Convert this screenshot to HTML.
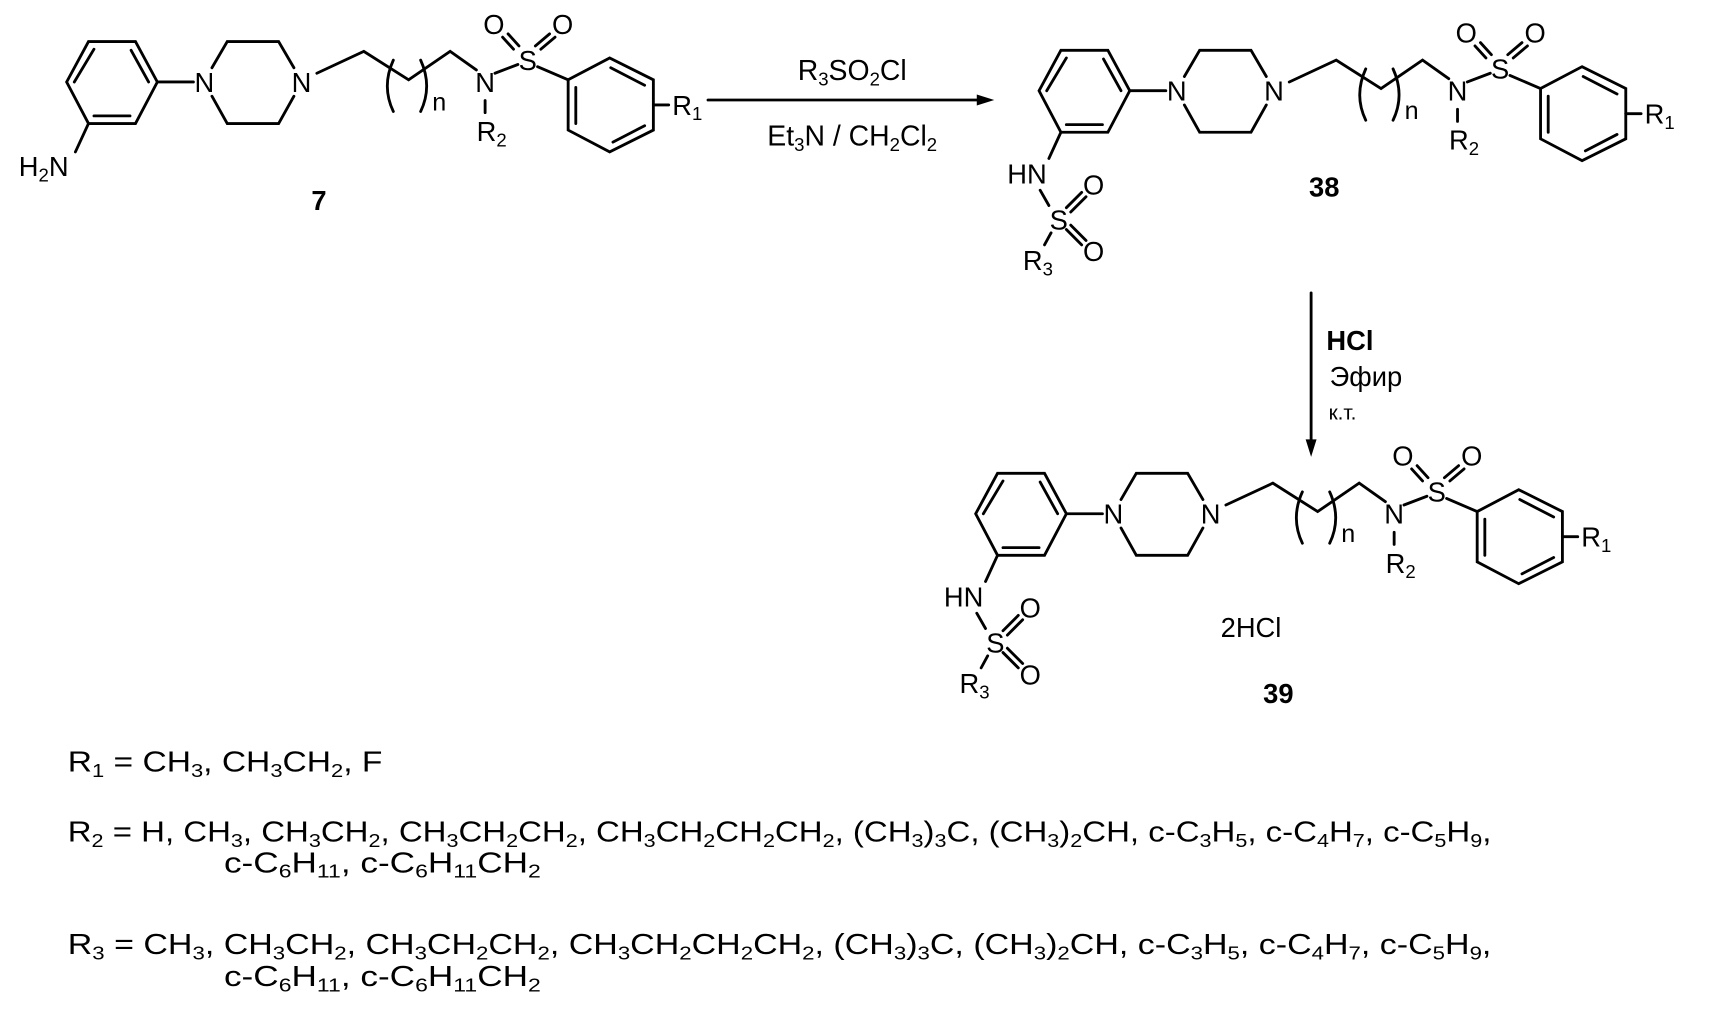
<!DOCTYPE html>
<html><head><meta charset="utf-8"><style>
html,body{margin:0;padding:0;background:#fff;}
svg{display:block}
text{font-family:"Liberation Sans",Arial,sans-serif;fill:#000;}
.a{font-size:25px}
.s{font-size:17px}
</style></head><body>
<svg width="1711" height="1010" viewBox="0 0 1566 924" preserveAspectRatio="none" xmlns="http://www.w3.org/2000/svg">
<g stroke="#000" stroke-width="2.6" fill="none" stroke-linecap="round">
<g>
<polygon points="81,38 124,38 144,75 124,113 81,113 61,75"/>
<line x1="68" y1="75" x2="86" y2="45"/><line x1="120" y1="46" x2="136" y2="75"/><line x1="86" y1="106" x2="119" y2="106"/>
<line x1="144" y1="75" x2="177" y2="75"/>
<polyline points="194,62 208,38 255,38 269,62"/><polyline points="269,88 255,113 208,113 194,88"/>
<polyline points="290,67 333,47 374,73 412,47 436,64"/>
<path d="M360,55 Q349,79 360,102"/><path d="M385,55 Q396,79 385,102"/>
<line x1="444" y1="92" x2="444" y2="103"/>
<line x1="453" y1="67" x2="474" y2="59"/>
<line x1="470" y1="45" x2="460" y2="34"/><line x1="475" y1="42" x2="465" y2="31"/>
<line x1="490" y1="42" x2="503" y2="31"/><line x1="495" y1="45" x2="508" y2="34"/>
<line x1="492" y1="61" x2="520" y2="73"/>
<polygon points="520,73 558,53 598,73 598,119 558,139 520,119"/>
<line x1="527" y1="80" x2="527" y2="113"/><line x1="559" y1="62" x2="590" y2="78"/><line x1="561" y1="130" x2="590" y2="115"/>
<line x1="598" y1="96" x2="612" y2="96"/>
</g>
<line x1="81" y1="113" x2="69" y2="139"/>
<g transform="translate(890,8)">
<polygon points="81,38 124,38 144,75 124,113 81,113 61,75"/>
<line x1="68" y1="75" x2="86" y2="45"/><line x1="120" y1="46" x2="136" y2="75"/><line x1="86" y1="106" x2="119" y2="106"/>
<line x1="144" y1="75" x2="177" y2="75"/>
<polyline points="194,62 208,38 255,38 269,62"/><polyline points="269,88 255,113 208,113 194,88"/>
<polyline points="290,67 333,47 374,73 412,47 436,64"/>
<path d="M360,55 Q349,79 360,102"/><path d="M385,55 Q396,79 385,102"/>
<line x1="444" y1="92" x2="444" y2="103"/>
<line x1="453" y1="67" x2="474" y2="59"/>
<line x1="470" y1="45" x2="460" y2="34"/><line x1="475" y1="42" x2="465" y2="31"/>
<line x1="490" y1="42" x2="503" y2="31"/><line x1="495" y1="45" x2="508" y2="34"/>
<line x1="492" y1="61" x2="520" y2="73"/>
<polygon points="520,73 558,53 598,73 598,119 558,139 520,119"/>
<line x1="527" y1="80" x2="527" y2="113"/><line x1="559" y1="62" x2="590" y2="78"/><line x1="561" y1="130" x2="590" y2="115"/>
<line x1="598" y1="96" x2="612" y2="96"/>
<line x1="81" y1="113" x2="70" y2="137"/>
<line x1="62" y1="166" x2="70" y2="180"/>
<line x1="86" y1="182" x2="100" y2="168"/><line x1="90" y1="186" x2="104" y2="172"/>
<line x1="86" y1="202" x2="100" y2="216"/><line x1="90" y1="198" x2="104" y2="212"/>
<line x1="72" y1="205" x2="66" y2="216"/>
</g>
<g transform="translate(832,395)">
<polygon points="81,38 124,38 144,75 124,113 81,113 61,75"/>
<line x1="68" y1="75" x2="86" y2="45"/><line x1="120" y1="46" x2="136" y2="75"/><line x1="86" y1="106" x2="119" y2="106"/>
<line x1="144" y1="75" x2="177" y2="75"/>
<polyline points="194,62 208,38 255,38 269,62"/><polyline points="269,88 255,113 208,113 194,88"/>
<polyline points="290,67 333,47 374,73 412,47 436,64"/>
<path d="M360,55 Q349,79 360,102"/><path d="M385,55 Q396,79 385,102"/>
<line x1="444" y1="92" x2="444" y2="103"/>
<line x1="453" y1="67" x2="474" y2="59"/>
<line x1="470" y1="45" x2="460" y2="34"/><line x1="475" y1="42" x2="465" y2="31"/>
<line x1="490" y1="42" x2="503" y2="31"/><line x1="495" y1="45" x2="508" y2="34"/>
<line x1="492" y1="61" x2="520" y2="73"/>
<polygon points="520,73 558,53 598,73 598,119 558,139 520,119"/>
<line x1="527" y1="80" x2="527" y2="113"/><line x1="559" y1="62" x2="590" y2="78"/><line x1="561" y1="130" x2="590" y2="115"/>
<line x1="598" y1="96" x2="612" y2="96"/>
<line x1="81" y1="113" x2="70" y2="137"/>
<line x1="62" y1="166" x2="70" y2="180"/>
<line x1="86" y1="182" x2="100" y2="168"/><line x1="90" y1="186" x2="104" y2="172"/>
<line x1="86" y1="202" x2="100" y2="216"/><line x1="90" y1="198" x2="104" y2="212"/>
<line x1="72" y1="205" x2="66" y2="216"/>
</g>
<line x1="648" y1="91.5" x2="898" y2="91.5"/>
<line x1="1200" y1="268" x2="1200" y2="405"/>
</g>
<polygon points="910,91.5 894,86.5 894,96.5" fill="#000"/>
<polygon points="1200,418 1195,402 1205,402" fill="#000"/>

<g class="a" text-anchor="middle">
<text x="187" y="84">N</text><text x="276" y="84">N</text><text x="444" y="84">N</text><text x="483" y="64">S</text>
<text x="452" y="31">O</text><text x="515" y="31">O</text>
<text x="402" y="101" style="font-size:23px">n</text>
<text x="450" y="129">R<tspan class="s" dy="5">2</tspan></text>
<text x="629" y="105">R<tspan class="s" dy="5">1</tspan></text>
<text x="40" y="161">H<tspan class="s" dy="5">2</tspan><tspan dy="-5">N</tspan></text>
</g>
<text x="292" y="192" text-anchor="middle" style="font-size:25px;font-weight:bold">7</text>

<g class="a" text-anchor="middle" transform="translate(890,8)">
<text x="187" y="84">N</text><text x="276" y="84">N</text><text x="444" y="84">N</text><text x="483" y="64">S</text>
<text x="452" y="31">O</text><text x="515" y="31">O</text>
<text x="402" y="101" style="font-size:23px">n</text>
<text x="450" y="129">R<tspan class="s" dy="5">2</tspan></text>
<text x="629" y="105">R<tspan class="s" dy="5">1</tspan></text>
<text x="50" y="160">HN</text>
<text x="79" y="202">S</text>
<text x="111" y="170">O</text><text x="111" y="231">O</text>
<text x="60" y="239">R<tspan class="s" dy="5">3</tspan></text>
</g>
<text x="1212" y="180" text-anchor="middle" style="font-size:25px;font-weight:bold">38</text>

<g class="a" text-anchor="middle" transform="translate(832,395)">
<text x="187" y="84">N</text><text x="276" y="84">N</text><text x="444" y="84">N</text><text x="483" y="64">S</text>
<text x="452" y="31">O</text><text x="515" y="31">O</text>
<text x="402" y="101" style="font-size:23px">n</text>
<text x="450" y="129">R<tspan class="s" dy="5">2</tspan></text>
<text x="629" y="105">R<tspan class="s" dy="5">1</tspan></text>
<text x="50" y="160">HN</text>
<text x="79" y="202">S</text>
<text x="111" y="170">O</text><text x="111" y="231">O</text>
<text x="60" y="239">R<tspan class="s" dy="5">3</tspan></text>
</g>
<text x="1145" y="583" text-anchor="middle" class="a">2HCl</text>
<text x="1170" y="643" text-anchor="middle" style="font-size:25px;font-weight:bold">39</text>

<text x="780" y="73" text-anchor="middle" style="font-size:26px">R<tspan class="s" dy="5">3</tspan><tspan dy="-5">SO</tspan><tspan class="s" dy="5">2</tspan><tspan dy="-5">Cl</tspan></text>
<text x="780" y="133" text-anchor="middle" style="font-size:26px">Et<tspan class="s" dy="5">3</tspan><tspan dy="-5">N / CH</tspan><tspan class="s" dy="5">2</tspan><tspan dy="-5">Cl</tspan><tspan class="s" dy="5">2</tspan></text>
<text x="1214" y="320" style="font-size:25px;font-weight:bold">HCl</text>
<text x="1217" y="353" style="font-size:25px">Эфир</text>
<text x="1216" y="384" style="font-size:19px">к.т.</text>

<g style="font-size:26px">
<text x="62" y="706" textLength="288" lengthAdjust="spacingAndGlyphs">R<tspan class="s" dy="5">1</tspan><tspan dy="-5"> = CH</tspan><tspan class="s" dy="5">3</tspan><tspan dy="-5">, CH</tspan><tspan class="s" dy="5">3</tspan><tspan dy="-5">CH</tspan><tspan class="s" dy="5">2</tspan><tspan dy="-5">, F</tspan></text>
<text x="62" y="770" textLength="1303" lengthAdjust="spacingAndGlyphs">R<tspan class="s" dy="5">2</tspan><tspan dy="-5"> = H, CH</tspan><tspan class="s" dy="5">3</tspan><tspan dy="-5">, CH</tspan><tspan class="s" dy="5">3</tspan><tspan dy="-5">CH</tspan><tspan class="s" dy="5">2</tspan><tspan dy="-5">, CH</tspan><tspan class="s" dy="5">3</tspan><tspan dy="-5">CH</tspan><tspan class="s" dy="5">2</tspan><tspan dy="-5">CH</tspan><tspan class="s" dy="5">2</tspan><tspan dy="-5">, CH</tspan><tspan class="s" dy="5">3</tspan><tspan dy="-5">CH</tspan><tspan class="s" dy="5">2</tspan><tspan dy="-5">CH</tspan><tspan class="s" dy="5">2</tspan><tspan dy="-5">CH</tspan><tspan class="s" dy="5">2</tspan><tspan dy="-5">, (CH</tspan><tspan class="s" dy="5">3</tspan><tspan dy="-5">)</tspan><tspan class="s" dy="5">3</tspan><tspan dy="-5">C, (CH</tspan><tspan class="s" dy="5">3</tspan><tspan dy="-5">)</tspan><tspan class="s" dy="5">2</tspan><tspan dy="-5">CH, c-C</tspan><tspan class="s" dy="5">3</tspan><tspan dy="-5">H</tspan><tspan class="s" dy="5">5</tspan><tspan dy="-5">, c-C</tspan><tspan class="s" dy="5">4</tspan><tspan dy="-5">H</tspan><tspan class="s" dy="5">7</tspan><tspan dy="-5">, c-C</tspan><tspan class="s" dy="5">5</tspan><tspan dy="-5">H</tspan><tspan class="s" dy="5">9</tspan><tspan dy="-5">,</tspan></text>
<text x="205" y="798" textLength="290" lengthAdjust="spacingAndGlyphs">c-C<tspan class="s" dy="5">6</tspan><tspan dy="-5">H</tspan><tspan class="s" dy="5">11</tspan><tspan dy="-5">, c-C</tspan><tspan class="s" dy="5">6</tspan><tspan dy="-5">H</tspan><tspan class="s" dy="5">11</tspan><tspan dy="-5">CH</tspan><tspan class="s" dy="5">2</tspan></text>
<text x="62" y="873" textLength="1303" lengthAdjust="spacingAndGlyphs">R<tspan class="s" dy="5">3</tspan><tspan dy="-5"> = CH</tspan><tspan class="s" dy="5">3</tspan><tspan dy="-5">, CH</tspan><tspan class="s" dy="5">3</tspan><tspan dy="-5">CH</tspan><tspan class="s" dy="5">2</tspan><tspan dy="-5">, CH</tspan><tspan class="s" dy="5">3</tspan><tspan dy="-5">CH</tspan><tspan class="s" dy="5">2</tspan><tspan dy="-5">CH</tspan><tspan class="s" dy="5">2</tspan><tspan dy="-5">, CH</tspan><tspan class="s" dy="5">3</tspan><tspan dy="-5">CH</tspan><tspan class="s" dy="5">2</tspan><tspan dy="-5">CH</tspan><tspan class="s" dy="5">2</tspan><tspan dy="-5">CH</tspan><tspan class="s" dy="5">2</tspan><tspan dy="-5">, (CH</tspan><tspan class="s" dy="5">3</tspan><tspan dy="-5">)</tspan><tspan class="s" dy="5">3</tspan><tspan dy="-5">C, (CH</tspan><tspan class="s" dy="5">3</tspan><tspan dy="-5">)</tspan><tspan class="s" dy="5">2</tspan><tspan dy="-5">CH, c-C</tspan><tspan class="s" dy="5">3</tspan><tspan dy="-5">H</tspan><tspan class="s" dy="5">5</tspan><tspan dy="-5">, c-C</tspan><tspan class="s" dy="5">4</tspan><tspan dy="-5">H</tspan><tspan class="s" dy="5">7</tspan><tspan dy="-5">, c-C</tspan><tspan class="s" dy="5">5</tspan><tspan dy="-5">H</tspan><tspan class="s" dy="5">9</tspan><tspan dy="-5">,</tspan></text>
<text x="205" y="902" textLength="290" lengthAdjust="spacingAndGlyphs">c-C<tspan class="s" dy="5">6</tspan><tspan dy="-5">H</tspan><tspan class="s" dy="5">11</tspan><tspan dy="-5">, c-C</tspan><tspan class="s" dy="5">6</tspan><tspan dy="-5">H</tspan><tspan class="s" dy="5">11</tspan><tspan dy="-5">CH</tspan><tspan class="s" dy="5">2</tspan></text>
</g>
</svg>
</body></html>
